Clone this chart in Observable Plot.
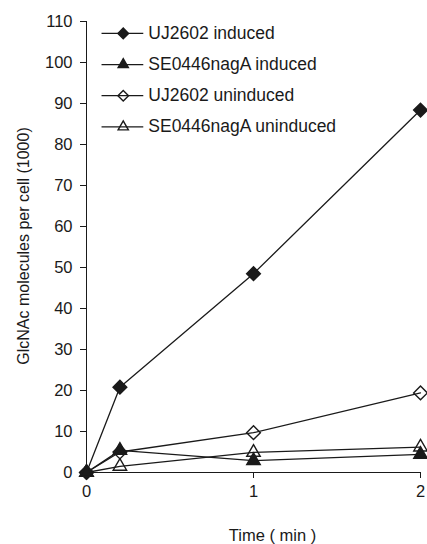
<!DOCTYPE html>
<html><head><meta charset="utf-8">
<script src="https://cdn.jsdelivr.net/npm/d3@7"></script>
<script src="https://cdn.jsdelivr.net/npm/@observablehq/plot@0.6"></script>
<style>
body{margin:0;background:#fff;}
#chart svg{display:block;}
</style>
</head><body><div id="chart"></div>
<script>
// ---- data ----
const times = [0, 0.2, 1, 2];
const seriesNames = ["UJ2602 induced", "SE0446nagA induced", "UJ2602 uninduced", "SE0446nagA uninduced"];
const uj2602Induced = [0, 20.8, 48.5, 88.4];
const se0446Induced = [0, 5.4, 2.9, 4.4];
const uj2602Uninduced = [0, 5.0, 9.7, 19.4];
const se0446Uninduced = [0, 1.5, 4.9, 6.2];
const yTicks = [0, 10, 20, 30, 40, 50, 60, 70, 80, 90, 100, 110];
const xTicks = [0, 1, 2];
const yLabel = "GlcNAc molecules per cell (1000)";
const xLabel = "Time ( min )";

// ---- styles ----
const seriesValues = [uj2602Induced, se0446Induced, uj2602Uninduced, se0446Uninduced];
const symbols = ["diamond2", "triangle", "diamond2", "triangle"];
const filled = [true, true, false, false];
const ink = "#1a1a1a";
const font = "'Liberation Sans', Arial, sans-serif";

const rows = [];
seriesNames.forEach((name, s) => {
  times.forEach((t, i) => rows.push({series: name, s, t, v: seriesValues[s][i]}));
});

const plotR = s => symbols[s] === "diamond2" ? 6.2 : 5.0;
const legR = s => symbols[s] === "diamond2" ? 4.8 : 3.8;

// legend laid out in data space (top-left of the frame)
const legend = seriesNames.map((name, s) => ({
  name, s,
  y: 107.1 - s * 7.6,
  x1: 0.09, x2: 0.34, xm: 0.22, xt: 0.37
}));

const marks = [
  Plot.ruleX([0], {stroke: ink, strokeWidth: 1}),
  Plot.ruleY([0], {stroke: ink, strokeWidth: 1}),
  Plot.axisY({ticks: yTicks, tickSize: 6, tickPadding: 8, fontSize: 16.5, label: null, stroke: ink, fill: ink, tickFormat: d => String(d)}),
  Plot.axisX({ticks: xTicks, tickSize: 6, tickPadding: 7, fontSize: 16.5, label: null, stroke: ink, fill: ink, tickFormat: d => String(d)}),
  Plot.line(rows, {x: "t", y: "v", z: "series", stroke: ink, strokeWidth: 1.3}),
];
seriesNames.forEach((name, s) => {
  marks.push(Plot.dot(rows.filter(d => d.s === s), {
    x: "t", y: "v", symbol: () => symbols[s], r: plotR(s),
    fill: filled[s] ? ink : "none", stroke: ink, strokeWidth: 1.4
  }));
});
// legend
marks.push(
  Plot.link(legend, {x1: "x1", x2: "x2", y1: "y", y2: "y", stroke: ink, strokeWidth: 1.3}),
  ...legend.map(d => Plot.dot([d], {x: "xm", y: "y", symbol: () => symbols[d.s], r: legR(d.s),
    fill: filled[d.s] ? ink : "none", stroke: ink, strokeWidth: 1.4})),
  Plot.text(legend, {x: "xt", y: "y", text: "name", textAnchor: "start", fontSize: 17.5, fill: ink}),
  Plot.text([yLabel], {frameAnchor: "left", textAnchor: "middle", lineAnchor: "middle", rotate: -90, dx: -63, dy: -1, fontSize: 16, fill: ink, style: "letter-spacing:0.9px"}),
  Plot.text([xLabel], {frameAnchor: "bottom", textAnchor: "middle", lineAnchor: "middle", dx: 19, dy: 63, fontSize: 16.5, fill: ink})
);

const chart = Plot.plot({
  width: 427,
  height: 544,
  marginLeft: 86,
  marginRight: 7,
  marginTop: 21,
  marginBottom: 72,
  style: {fontFamily: font, background: "#fff", color: ink},
  x: {domain: [0, 2], axis: null},
  y: {domain: [0, 110], axis: null},
  symbol: {type: "identity"},
  marks
});
document.getElementById("chart").appendChild(chart);
</script>
</body></html>
